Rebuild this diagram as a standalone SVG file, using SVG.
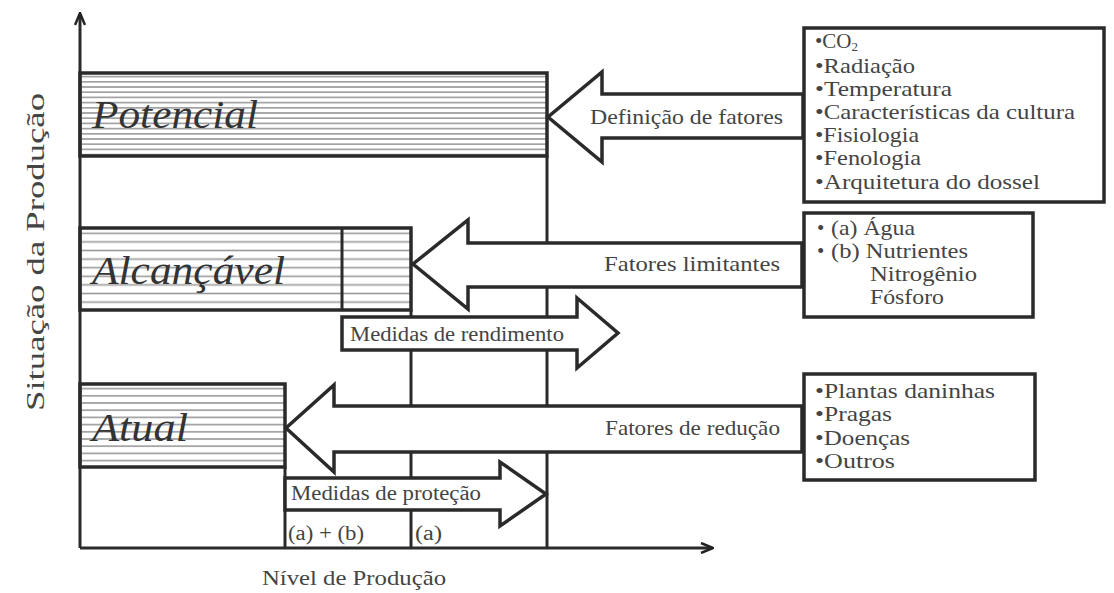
<svg xmlns="http://www.w3.org/2000/svg" width="1114" height="593" viewBox="0 0 1114 593">
<defs>
<pattern id="h1" patternUnits="userSpaceOnUse" width="20" height="5.2" y="74"><line x1="0" y1="2.6" x2="20" y2="2.6" stroke="#9a9a9a" stroke-width="1.6"/></pattern>
<pattern id="h2" patternUnits="userSpaceOnUse" width="20" height="8.6" y="229"><line x1="0" y1="4.3" x2="20" y2="4.3" stroke="#9a9a9a" stroke-width="1.6"/></pattern>
<pattern id="h3" patternUnits="userSpaceOnUse" width="20" height="7.2" y="385"><line x1="0" y1="3.6" x2="20" y2="3.6" stroke="#9a9a9a" stroke-width="1.6"/></pattern>
<marker id="ah" markerWidth="14" markerHeight="12" refX="12" refY="6" orient="auto" markerUnits="userSpaceOnUse"><path d="M1,1 L13,6 L1,11" fill="none" stroke="#222" stroke-width="2.5"/></marker>
</defs>
<style>
.ln{stroke:#2a2a2a;stroke-width:3;fill:none}
.bar{stroke:#2a2a2a;stroke-width:3.5}
.arr{fill:#fff;stroke:#2a2a2a;stroke-width:3.5;stroke-linejoin:miter}
.box{fill:#fff;stroke:#2a2a2a;stroke-width:3.5}
.t{font-family:"Liberation Serif",serif;fill:#444}
.big{font-family:"Liberation Serif",serif;font-style:italic;fill:#333;font-size:40px}
.lb{font-size:21px}
.it{font-size:20px}
</style>
<rect width="1114" height="593" fill="#fff"/>

<g id="axes">
<line class="ln" x1="80" y1="548" x2="80" y2="14" marker-end="url(#ah)"/>
<line class="ln" x1="80" y1="548" x2="712" y2="548" marker-end="url(#ah)"/>
<text class="t" x="44" y="252" font-size="25" text-anchor="middle" transform="rotate(-90 44 252)" textLength="318" lengthAdjust="spacingAndGlyphs">Situação da Produção</text>
<text class="t" x="354" y="585" font-size="21" text-anchor="middle" textLength="184" lengthAdjust="spacingAndGlyphs">Nível de Produção</text>
</g>

<g id="verticals">
<line class="ln" x1="547" y1="156" x2="547" y2="548"/>
<line class="ln" x1="411" y1="310" x2="411" y2="548"/>
<line class="ln" x1="285" y1="467" x2="285" y2="548"/>
<text class="t it" x="288" y="540" textLength="76" lengthAdjust="spacingAndGlyphs">(a) + (b)</text>
<text class="t it" x="415" y="540" textLength="27" lengthAdjust="spacingAndGlyphs">(a)</text>
</g>

<g id="potencial">
<rect x="80" y="73" width="467" height="83" fill="url(#h1)" class="bar"/>
<text class="big" x="92" y="128" textLength="166" lengthAdjust="spacingAndGlyphs">Potencial</text>
</g>

<g id="alcancavel">
<rect x="80" y="228" width="331" height="82" fill="url(#h2)" class="bar"/>
<line class="ln" x1="342" y1="228" x2="342" y2="310"/>
<text class="big" x="92" y="284" textLength="193" lengthAdjust="spacingAndGlyphs">Alcançável</text>
</g>

<g id="atual">
<rect x="80" y="384" width="205" height="83" fill="url(#h3)" class="bar"/>
<text class="big" x="92" y="441" textLength="96" lengthAdjust="spacingAndGlyphs">Atual</text>
</g>

<g id="connectors">
<polygon class="arr" points="803,94 602,94 602,72 548,117 602,162 602,138 803,138"/>
<text class="t lb" x="590" y="124" textLength="193" lengthAdjust="spacingAndGlyphs">Definição de fatores</text>
<polygon class="arr" points="802,243 468,243 468,220 413,264 468,309 468,287 802,287"/>
<text class="t lb" x="604" y="271" textLength="176" lengthAdjust="spacingAndGlyphs">Fatores limitantes</text>
<polygon class="arr" points="342,317 577,317 577,298 618,333 577,368 577,350 342,350"/>
<text class="t it" x="350" y="341" textLength="214" lengthAdjust="spacingAndGlyphs">Medidas de rendimento</text>
<polygon class="arr" points="802,406 334,406 334,385 286,428 334,472 334,452 802,452"/>
<text class="t lb" x="605" y="435" textLength="175" lengthAdjust="spacingAndGlyphs">Fatores de redução</text>
<polygon class="arr" points="285,478 500,478 500,462 546,494 500,526 500,510 285,510"/>
<text class="t it" x="291" y="500" textLength="190" lengthAdjust="spacingAndGlyphs">Medidas de proteção</text>
</g>

<g id="box-potencial">
<rect class="box" x="804" y="28" width="300" height="174"/>
<g class="t" font-size="21">
<text x="815" y="48">•CO<tspan font-size="13" dy="3">2</tspan></text>
<text x="815" y="73" textLength="100" lengthAdjust="spacingAndGlyphs">•Radiação</text>
<text x="815" y="96" textLength="137" lengthAdjust="spacingAndGlyphs">•Temperatura</text>
<text x="815" y="119" textLength="260" lengthAdjust="spacingAndGlyphs">•Características da cultura</text>
<text x="815" y="142" textLength="104" lengthAdjust="spacingAndGlyphs">•Fisiologia</text>
<text x="815" y="165" textLength="106" lengthAdjust="spacingAndGlyphs">•Fenologia</text>
<text x="815" y="189" textLength="225" lengthAdjust="spacingAndGlyphs">•Arquitetura do dossel</text>
</g>
</g>

<g id="box-alcancavel">
<rect class="box" x="804" y="213" width="229" height="104"/>
<g class="t" font-size="21">
<text x="817" y="235">•</text>
<text x="831" y="235" textLength="84" lengthAdjust="spacingAndGlyphs">(a) Água</text>
<text x="817" y="258">•</text>
<text x="831" y="258" textLength="137" lengthAdjust="spacingAndGlyphs">(b) Nutrientes</text>
<text x="870" y="281" textLength="107" lengthAdjust="spacingAndGlyphs">Nitrogênio</text>
<text x="870" y="304" textLength="74" lengthAdjust="spacingAndGlyphs">Fósforo</text>
</g>
</g>

<g id="box-atual">
<rect class="box" x="804" y="374" width="231" height="106"/>
<g class="t" font-size="21">
<text x="815" y="398" textLength="180" lengthAdjust="spacingAndGlyphs">•Plantas daninhas</text>
<text x="815" y="421" textLength="77" lengthAdjust="spacingAndGlyphs">•Pragas</text>
<text x="815" y="445" textLength="95" lengthAdjust="spacingAndGlyphs">•Doenças</text>
<text x="815" y="468" textLength="80" lengthAdjust="spacingAndGlyphs">•Outros</text>
</g>
</g>
</svg>
